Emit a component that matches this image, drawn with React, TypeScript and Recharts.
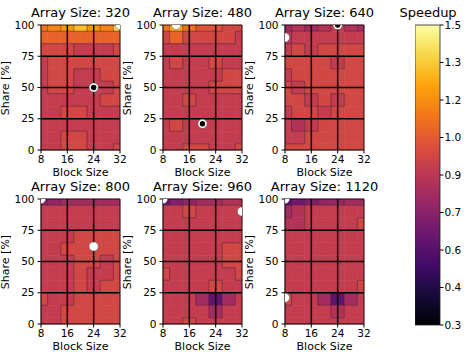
import { ScatterChart, Scatter, XAxis, YAxis, ReferenceArea, ReferenceLine } from 'recharts'

const BLOCK_SIZES = [8, 12, 16, 20, 24, 28, 32]
const SHARES = [100, 90, 80, 70, 60, 50, 40, 30, 20, 10, 0]
const X_TICKS = [8, 16, 24, 32]
const Y_TICKS = [0, 25, 50, 75, 100]
const ARRAY_SIZES = [320, 480, 640, 800, 960, 1120]

// speedup per (share row, block size column), rows from share 100 down to 0
const speedup320 = [
  [1.12, 1.15, 1.2, 1.32, 1.2, 1.18, 1.35],
  [1.06, 1.07, 1.06, 1.08, 1.06, 1.07, 1.08],
  [0.98, 0.98, 0.98, 0.93, 0.93, 0.93, 0.98],
  [0.93, 0.98, 0.98, 0.98, 0.98, 0.98, 0.98],
  [0.93, 0.98, 0.98, 0.93, 0.93, 0.98, 0.98],
  [0.93, 0.98, 0.98, 0.93, 0.93, 0.93, 0.98],
  [0.93, 0.93, 0.93, 0.93, 0.93, 0.98, 0.98],
  [0.93, 0.93, 0.98, 0.98, 0.93, 0.93, 0.93],
  [0.93, 0.93, 0.93, 0.93, 0.93, 0.93, 0.93],
  [0.93, 0.93, 0.98, 0.98, 0.93, 0.93, 0.93],
  [0.93, 0.93, 0.98, 0.98, 0.93, 0.93, 0.98],
]
const speedup480 = [
  [1.1, 1.25, 1.1, 1.02, 1.02, 0.98, 0.98],
  [0.98, 1.06, 0.98, 0.98, 0.98, 0.98, 0.93],
  [0.93, 0.93, 0.93, 0.93, 0.93, 0.93, 0.93],
  [0.93, 0.98, 0.93, 0.93, 0.98, 0.93, 0.93],
  [0.93, 0.93, 0.93, 0.93, 0.93, 0.98, 0.98],
  [0.93, 0.93, 0.93, 0.93, 0.98, 0.98, 0.98],
  [0.93, 0.93, 0.98, 0.93, 0.93, 0.93, 0.93],
  [0.93, 0.93, 0.93, 0.93, 0.93, 0.93, 0.93],
  [0.93, 0.98, 0.93, 0.93, 0.93, 0.93, 0.93],
  [0.93, 0.93, 0.93, 0.93, 0.93, 0.93, 0.93],
  [0.93, 0.93, 0.98, 0.98, 0.93, 0.93, 0.98],
]
const speedup640 = [
  [0.8, 0.86, 0.82, 0.88, 0.92, 0.86, 0.8],
  [0.88, 0.92, 0.93, 0.93, 0.93, 0.92, 0.9],
  [0.93, 0.96, 0.93, 0.96, 0.96, 0.96, 0.96],
  [0.96, 0.96, 0.96, 0.96, 0.93, 0.96, 0.96],
  [0.93, 0.96, 0.96, 0.96, 0.96, 0.96, 0.96],
  [0.96, 0.93, 0.96, 0.96, 0.96, 0.96, 0.96],
  [0.96, 0.96, 0.93, 0.96, 0.93, 0.96, 0.96],
  [0.93, 0.96, 0.96, 0.93, 0.96, 0.96, 0.96],
  [0.93, 0.86, 0.93, 0.96, 0.96, 0.96, 0.96],
  [0.93, 0.93, 0.96, 0.96, 0.96, 0.96, 0.96],
  [0.96, 0.96, 0.96, 0.96, 0.96, 0.96, 0.96],
]
const speedup800 = [
  [0.72, 0.78, 0.8, 0.82, 0.82, 0.82, 0.84],
  [0.9, 0.91, 0.91, 0.91, 0.91, 0.91, 0.91],
  [0.93, 0.93, 0.93, 0.93, 0.93, 0.93, 0.93],
  [0.93, 0.93, 0.93, 0.98, 0.98, 0.98, 0.98],
  [0.93, 0.93, 0.98, 0.98, 0.98, 0.98, 0.98],
  [0.93, 0.93, 0.93, 0.98, 0.98, 0.93, 0.98],
  [0.93, 0.93, 0.93, 0.98, 0.93, 0.93, 0.98],
  [0.93, 0.93, 0.93, 0.98, 0.93, 0.98, 0.98],
  [0.98, 0.93, 0.93, 0.98, 0.98, 0.98, 0.98],
  [0.93, 0.93, 0.98, 0.98, 0.98, 0.98, 0.98],
  [0.93, 0.93, 0.98, 0.98, 0.98, 0.98, 0.98],
]
const speedup960 = [
  [0.6, 0.7, 0.75, 0.8, 0.82, 0.85, 0.88],
  [0.92, 0.93, 0.98, 0.93, 0.93, 0.93, 0.93],
  [0.93, 0.93, 0.93, 0.93, 0.93, 0.93, 0.93],
  [0.93, 0.93, 0.93, 0.93, 0.93, 0.93, 0.93],
  [0.93, 0.93, 0.93, 0.93, 0.93, 0.98, 0.98],
  [0.93, 0.93, 0.93, 0.93, 0.93, 0.98, 0.98],
  [0.98, 0.93, 0.93, 0.93, 0.93, 0.93, 0.98],
  [0.93, 0.93, 0.93, 0.93, 0.98, 0.93, 0.93],
  [0.93, 0.93, 0.93, 0.84, 0.64, 0.84, 0.93],
  [0.93, 0.93, 0.93, 0.92, 0.84, 0.92, 0.93],
  [0.93, 0.93, 0.98, 0.93, 0.93, 0.93, 0.93],
]
const speedup1120 = [
  [0.55, 0.65, 0.72, 0.75, 0.78, 0.8, 0.8],
  [0.84, 0.86, 0.9, 0.91, 0.91, 0.91, 0.92],
  [0.86, 0.86, 0.93, 0.93, 0.93, 0.93, 0.98],
  [0.93, 0.93, 0.93, 0.93, 0.93, 0.93, 0.93],
  [0.93, 0.93, 0.93, 0.93, 0.93, 0.93, 0.93],
  [0.93, 0.93, 0.93, 0.93, 0.93, 0.93, 0.93],
  [0.93, 0.93, 0.93, 0.93, 0.93, 0.93, 0.93],
  [0.93, 0.93, 0.93, 0.93, 0.93, 0.93, 0.98],
  [0.98, 0.93, 0.93, 0.82, 0.62, 0.82, 0.93],
  [0.93, 0.93, 0.93, 0.91, 0.86, 0.91, 0.93],
  [0.93, 0.93, 0.93, 0.93, 0.93, 0.93, 0.93],
]
const SPEEDUP = [speedup320, speedup480, speedup640, speedup800, speedup960, speedup1120]

// highlighted configurations per panel
const MARKERS = [
  [{ bs: 24, share: 50, best: true }, { bs: 32, share: 100, best: false }],
  [{ bs: 20, share: 21, best: true }, { bs: 12, share: 100, best: false }],
  [{ bs: 24, share: 100, best: true }, { bs: 8, share: 90, best: false }],
  [{ bs: 24, share: 62, best: false }, { bs: 8, share: 100, best: false }],
  [{ bs: 32, share: 90, best: false }, { bs: 8, share: 100, best: false }],
  [{ bs: 8, share: 21, best: false }, { bs: 8, share: 100, best: false }],
]

const CBAR_TICKS = [0.3, 0.45, 0.6, 0.75, 0.9, 1.05, 1.2, 1.35, 1.5]
const CBAR_LABELS = ['0.3', '0.4', '0.6', '0.7', '0.9', '1.0', '1.2', '1.3', '1.5']

const INFERNO = ['#000004', '#160b39', '#420a68', '#6a176e', '#932667', '#bc3754', '#dd513a', '#f37819', '#fca50a', '#f6d746', '#fcffa4']

const VMIN = 0.3
const VMAX = 1.5
const STEP = 0.05
const CBAR_RANGE = [{ x: 0, y: VMIN }, { x: 1, y: VMAX }]

function inferno(t: number) {
  const c = Math.max(0, Math.min(1, t)) * (INFERNO.length - 1)
  const i = Math.min(INFERNO.length - 2, Math.floor(c))
  const f = c - i
  const a = INFERNO[i]
  const b = INFERNO[i + 1]
  const ch = (s: string, k: number) => parseInt(s.slice(1 + 2 * k, 3 + 2 * k), 16)
  const mix = [0, 1, 2].map((k) => Math.round(ch(a, k) + f * (ch(b, k) - ch(a, k))))
  return `rgb(${mix.join(',')})`
}

const band = (v: number) => Math.floor((v - VMIN) / STEP + 1e-6)
const bandColor = (b: number) => inferno(((b + 0.5) * STEP) / (VMAX - VMIN))

const COL_X = [41, 163, 285]
const ROW_Y = [25, 199]
const PW = 79
const PH = 125

const xLo = (bs: number) => Math.max(8, bs - 2)
const xHi = (bs: number) => Math.min(32, bs + 2)
const yLo = (s: number) => Math.max(0, s - 5)
const yHi = (s: number) => Math.min(100, s + 5)

const Marker = (props: any) => {
  const { cx, cy, payload } = props
  return (
    <g>
      <circle cx={cx} cy={cy} r={4.6} fill="#fff" stroke="#666" strokeWidth={0.6} />
      {payload.best && <circle cx={cx} cy={cy} r={2.7} fill="#000" />}
    </g>
  )
}

function Panel({ idx }: { idx: number }) {
  const grid = SPEEDUP[idx]
  const px = COL_X[idx % 3]
  const py = ROW_Y[Math.floor(idx / 3)]

  const cells: any[] = []
  const edges: any[] = []
  SHARES.forEach((s, r) => {
    BLOCK_SIZES.forEach((bs, c) => {
      const b = band(grid[r][c])
      cells.push({ x1: xLo(bs), x2: xHi(bs), y1: yLo(s), y2: yHi(s), color: bandColor(b) })
      if (c < BLOCK_SIZES.length - 1 && band(grid[r][c + 1]) !== b) {
        edges.push([{ x: bs + 2, y: yLo(s) }, { x: bs + 2, y: yHi(s) }])
      }
      if (r < SHARES.length - 1 && band(grid[r + 1][c]) !== b) {
        edges.push([{ x: xLo(bs), y: s - 5 }, { x: xHi(bs), y: s - 5 }])
      }
    })
  })

  return (
    <>
      <div style={{ position: 'absolute', left: px + PW / 2 - 80, top: py - 20, width: 160, textAlign: 'center', fontSize: 13, lineHeight: '16px' }}>
        Array Size: {ARRAY_SIZES[idx]}
      </div>
      <div style={{ position: 'absolute', left: px + PW / 2 - 50, top: py + PH + 16, width: 100, textAlign: 'center', fontSize: 11, lineHeight: '14px' }}>
        Block Size
      </div>
      <div style={{ position: 'absolute', left: px - 35 - 40, top: py + PH / 2 - 7, width: 80, textAlign: 'center', fontSize: 11, lineHeight: '14px', transform: 'rotate(-90deg)' }}>
        Share [%]
      </div>
      <div style={{ position: 'absolute', left: px - 40, top: py - 5 }}>
        <ScatterChart width={40 + PW + 12} height={5 + PH + 25} margin={{ top: 5, right: 12, bottom: 0, left: 0 }}>
          <XAxis
            type="number"
            dataKey="bs"
            domain={[8, 32]}
            ticks={X_TICKS}
            interval={0}
            allowDataOverflow
            height={25}
            stroke="#000"
            tickSize={3.5}
            tickMargin={2}
            tick={{ fontSize: 10.5, fill: '#000' }}
          />
          <YAxis
            type="number"
            dataKey="share"
            domain={[0, 100]}
            ticks={Y_TICKS}
            interval={0}
            allowDataOverflow
            width={40}
            stroke="#000"
            tickSize={3.5}
            tickMargin={3}
            tick={{ fontSize: 10.5, fill: '#000' }}
          />
          {cells.map((c, i) => (
            <ReferenceArea key={`c${i}`} x1={c.x1} x2={c.x2} y1={c.y1} y2={c.y2} fill={c.color} fillOpacity={1} stroke={c.color} strokeWidth={0.6} />
          ))}
          {edges.map((seg, i) => (
            <ReferenceLine key={`e${i}`} segment={seg} stroke="#3b1530" strokeOpacity={0.75} strokeWidth={0.6} />
          ))}
          {[16, 24].map((x) => (
            <ReferenceLine key={`gx${x}`} x={x} stroke="#000" strokeWidth={1.5} />
          ))}
          {[25, 50, 75].map((y) => (
            <ReferenceLine key={`gy${y}`} y={y} stroke="#000" strokeWidth={1.5} />
          ))}
          <ReferenceLine x={32} stroke="#000" strokeWidth={0.8} />
          <ReferenceLine y={100} stroke="#000" strokeWidth={0.8} />
          <Scatter data={MARKERS[idx]} isAnimationActive={false} shape={Marker} />
        </ScatterChart>
      </div>
    </>
  )
}

function ColorBar() {
  const stops = INFERNO.map((c, i) => ({ offset: i / (INFERNO.length - 1), color: c }))
  return (
    <>
      <svg width={0} height={0} style={{ position: 'absolute' }}>
        <defs>
          <linearGradient id="inferno" x1="0" y1="1" x2="0" y2="0">
            {stops.map((s) => (
              <stop key={s.offset} offset={s.offset} stopColor={s.color} />
            ))}
          </linearGradient>
        </defs>
      </svg>
      <div style={{ position: 'absolute', left: 378, top: 5, width: 100, textAlign: 'center', fontSize: 13, lineHeight: '16px' }}>
        Speedup
      </div>
      <div style={{ position: 'absolute', left: 415, top: 20 }}>
        <ScatterChart width={25 + 40} height={310} margin={{ top: 5, right: 0, bottom: 5, left: 0 }}>
          <XAxis type="number" dataKey="x" domain={[0, 1]} hide />
          <YAxis
            type="number"
            dataKey="y"
            orientation="right"
            domain={[VMIN, VMAX]}
            ticks={CBAR_TICKS}
            interval={0}
            width={40}
            axisLine={false}
            stroke="#000"
            tickSize={3.5}
            tickMargin={1}
            tick={{ fontSize: 10.5, fill: '#000' }}
            tickFormatter={(v: number) => CBAR_LABELS[CBAR_TICKS.indexOf(v)]}
          />
          <ReferenceArea x1={0} x2={1} y1={VMIN} y2={VMAX} fill="url(#inferno)" fillOpacity={1} stroke="#222" strokeWidth={0.8} />
          <Scatter data={CBAR_RANGE} isAnimationActive={false} shape={() => <g />} />
        </ScatterChart>
      </div>
    </>
  )
}

export default function App() {
  return (
    <div style={{ position: 'absolute', left: 0, top: 0, width: 467, height: 354, background: '#fff', fontFamily: 'DejaVu Sans', color: '#000' }}>
      {ARRAY_SIZES.map((_, i) => (
        <Panel key={i} idx={i} />
      ))}
      <ColorBar />
    </div>
  )
}
